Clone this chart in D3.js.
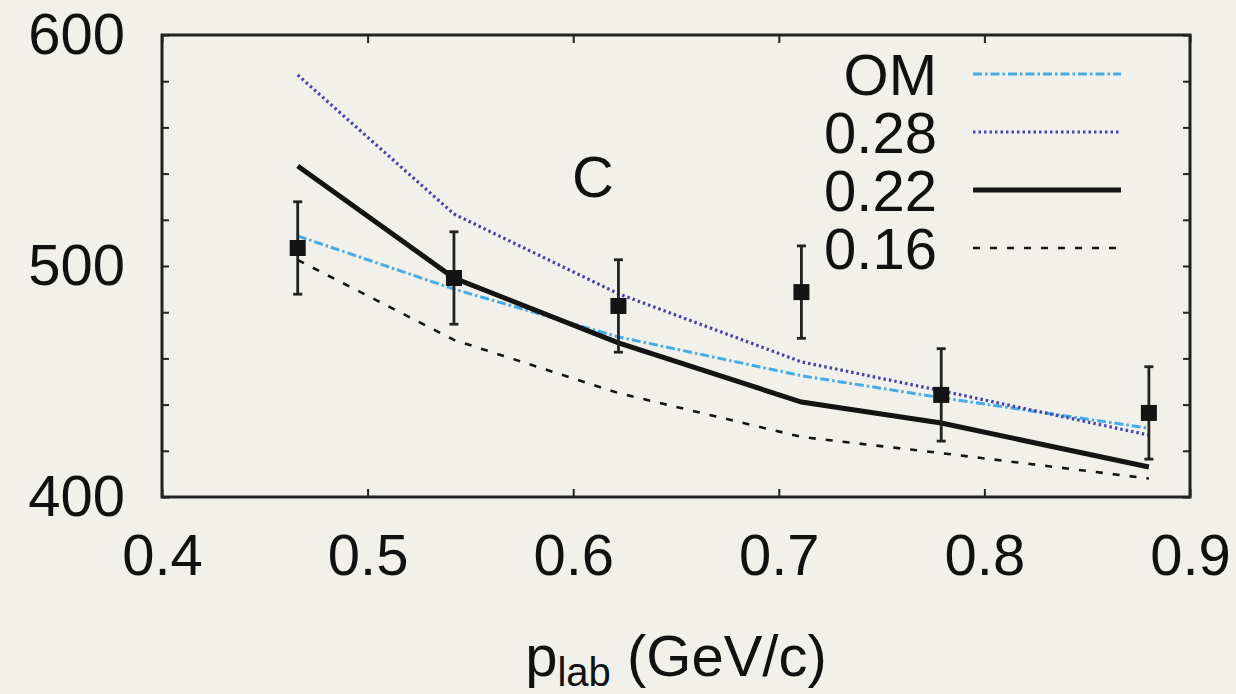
<!DOCTYPE html>
<html lang="en">
<head>
    <meta charset="UTF-8">
    <title>p_lab chart</title>
    <script src="https://d3js.org/d3.v7.min.js"></script>
    <style>
        body { margin: 0; background: #f2f0eb; }
        svg { display: block; }
        text { font-family: "Liberation Sans", Arial, Helvetica, sans-serif; fill: #111; }
        .axis path { display: none; }
        .axis line { stroke: #222; stroke-width: 2; }
        .axis text { font-size: 58px; fill: #111; }
    </style>
</head>
<body>
    <svg width="1236" height="694"></svg>

    <script>
        // momentum points (GeV/c)
        const plab = [0.466, 0.542, 0.622, 0.711, 0.779, 0.880];

        // measured values and errors
        const dataValues = [507.8, 494.8, 482.7, 488.7, 444.2, 436.4];
        const dataErrors = [20, 20, 20, 20, 20, 20];

        // model curves
        const omValues  = [513.0, 490.0, 469.3, 452.5, 443.0, 429.8];
        const v028      = [582.7, 522.5, 488.0, 458.5, 446.0, 426.8];
        const v022      = [543.3, 494.8, 466.7, 441.1, 432.0, 413.0];
        const v016      = [502.6, 468.0, 445.0, 426.0, 419.0, 408.0];

        const legendLabels = ["OM", "0.28", "0.22", "0.16"];
        const xTickValues = [0.4, 0.5, 0.6, 0.7, 0.8, 0.9];
        const yTickValues = d3.range(400, 601, 20);

        const svg = d3.select("svg");
        const margin = { top: 35, right: 46, bottom: 197, left: 162 };
        const width = 1236 - margin.left - margin.right,
            height = 694 - margin.top - margin.bottom;

        svg.append("rect").attr("width", 1236).attr("height", 694).attr("fill", "#f2f0eb");

        const g = svg.append("g").attr("transform", `translate(${margin.left},${margin.top})`);

        const x = d3.scaleLinear().domain([0.4, 0.9]).range([0, width]);
        const y = d3.scaleLinear().domain([400, 600]).range([height, 0]);

        // axes, ticks pointing inward
        g.append("g").attr("class", "axis")
            .attr("transform", `translate(0,${height})`)
            .call(d3.axisBottom(x).tickValues(xTickValues).tickSize(-8).tickPadding(37).tickFormat(d3.format(".1f")));
        g.append("g").attr("class", "axis")
            .call(d3.axisTop(x).tickValues(xTickValues).tickSize(-8).tickFormat(""));
        g.append("g").attr("class", "axis")
            .call(d3.axisLeft(y).tickValues(yTickValues).tickSize(-7).tickPadding(37)
                .tickFormat(d => d % 100 === 0 ? d : ""));
        g.append("g").attr("class", "axis")
            .attr("transform", `translate(${width},0)`)
            .call(d3.axisRight(y).tickValues(yTickValues).tickSize(-7).tickFormat(""));

        // frame
        g.append("rect")
            .attr("width", width).attr("height", height)
            .attr("fill", "none").attr("stroke", "#222").attr("stroke-width", 3);

        const series = [
            { label: "OM", values: omValues, color: "#45ace8", w: 3, dash: "9,3,2.5,3" },
            { label: "0.28", values: v028, color: "#4444a8", w: 3.2, dash: "2.5,3" },
            { label: "0.22", values: v022, color: "#141414", w: 5, dash: null },
            { label: "0.16", values: v016, color: "#141414", w: 2.6, dash: "7,10" }
        ];

        const line = d3.line().x(d => x(d[0])).y(d => y(d[1]));

        series.forEach(s => {
            g.append("path")
                .datum(plab.map((p, i) => [p, s.values[i]]))
                .attr("fill", "none")
                .attr("stroke", s.color)
                .attr("stroke-width", s.w)
                .attr("stroke-dasharray", s.dash)
                .attr("d", line);
        });

        // data points with error bars
        const pts = plab.map((p, i) => ({ p, v: dataValues[i], e: dataErrors[i] }));
        const pg = g.selectAll(".pt").data(pts).enter().append("g").attr("class", "pt");
        pg.append("line")
            .attr("x1", d => x(d.p)).attr("x2", d => x(d.p))
            .attr("y1", d => y(d.v + d.e)).attr("y2", d => y(d.v - d.e))
            .attr("stroke", "#222").attr("stroke-width", 2.8);
        [1, -1].forEach(sgn => {
            pg.append("line")
                .attr("x1", d => x(d.p) - 4.5).attr("x2", d => x(d.p) + 4.5)
                .attr("y1", d => y(d.v + sgn * d.e)).attr("y2", d => y(d.v + sgn * d.e))
                .attr("stroke", "#222").attr("stroke-width", 2.8);
        });
        pg.append("rect")
            .attr("x", d => x(d.p) - 8).attr("y", d => y(d.v) - 8)
            .attr("width", 16).attr("height", 16)
            .attr("fill", "#141414");

        // legend
        const leg = g.append("g");
        legendLabels.forEach((lab, i) => {
            const s = series[i];
            const by = 60 + i * 58;
            leg.append("text")
                .attr("x", 775).attr("y", by)
                .attr("text-anchor", "end")
                .attr("font-size", 58)
                .text(lab);
            leg.append("line")
                .attr("x1", 811).attr("x2", 959)
                .attr("y1", by - 21).attr("y2", by - 21)
                .attr("stroke", s.color)
                .attr("stroke-width", s.w)
                .attr("stroke-dasharray", s.dash);
        });

        // panel label
        g.append("text")
            .attr("x", 410).attr("y", 162)
            .attr("font-size", 58)
            .text("C");

        // x axis title
        const xt = svg.append("text")
            .attr("x", margin.left + width / 2).attr("y", 676)
            .attr("text-anchor", "middle")
            .attr("font-size", 58);
        xt.append("tspan").text("p");
        xt.append("tspan").attr("font-size", 40).attr("dy", 10).text("lab");
        xt.append("tspan").attr("dy", -10).text(" (GeV/c)");
    </script>
</body>
</html>
